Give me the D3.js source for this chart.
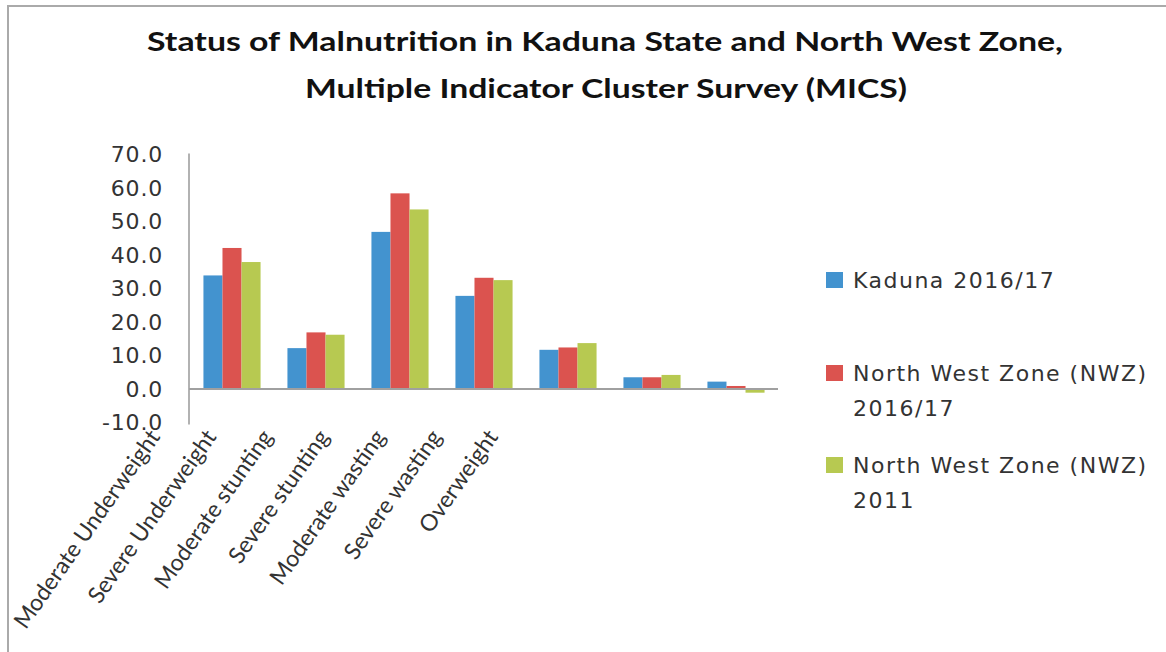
<!DOCTYPE html>
<html>
<head>
<meta charset="utf-8">
<script src="https://d3js.org/d3.v7.min.js"></script>
<style>
  body {margin: 0; background: #fff;}
  svg {display: block;}
</style>
</head>
<body>
<svg id="chart" width="1166" height="652"></svg>
<script>
// data
var categories = ["Moderate Underweight", "Severe Underweight", "Moderate stunting",
  "Severe stunting", "Moderate wasting", "Severe wasting", "Overweight"];
var seriesNames = ["Kaduna 2016/17", "North West Zone (NWZ) 2016/17", "North West Zone (NWZ) 2011"];
var kaduna2016 = [33.9, 12.2, 46.9, 27.8, 11.7, 3.5, 2.2];
var nwz2016 = [42.1, 16.9, 58.4, 33.2, 12.4, 3.5, 0.9];
var nwz2011 = [37.9, 16.2, 53.6, 32.5, 13.7, 4.2, -1.1];
var yTicks = [-10, 0, 10, 20, 30, 40, 50, 60, 70];
var colors = ["#4393cf", "#db534f", "#b7c951"];

var series = [kaduna2016, nwz2016, nwz2011];

var svg = d3.select("#chart");

// frame lines (top and left)
svg.append("line").attr("x1", 7).attr("x2", 1166).attr("y1", 6).attr("y2", 6)
  .style("stroke", "#aaa").style("stroke-width", 2);
svg.append("line").attr("x1", 8).attr("x2", 8).attr("y1", 6).attr("y2", 652)
  .style("stroke", "#aaa").style("stroke-width", 2);

// title
var title = svg.append("g").attr("font-family", "Lato, 'Open Sans', sans-serif")
  .attr("font-weight", "bold").attr("font-size", 27).attr("fill", "#111")
  .attr("text-anchor", "middle");
title.append("text").attr("x", 605).attr("y", 51)
  .attr("textLength", 916).attr("lengthAdjust", "spacingAndGlyphs")
  .text("Status of Malnutrition in Kaduna State and North West Zone,");
title.append("text").attr("x", 606).attr("y", 98)
  .attr("textLength", 602).attr("lengthAdjust", "spacingAndGlyphs")
  .text("Multiple Indicator Cluster Survey (MICS)");

// scales
var y = d3.scaleLinear().domain([-10, 70]).range([422.5, 154.5]);
var x0 = d3.scaleBand().domain(categories).range([190, 778])
  .paddingInner(0.32).paddingOuter(0.16);
var x1 = d3.scaleBand().domain(d3.range(series.length)).range([0, x0.bandwidth()]);
var labelX = d3.scalePoint().domain(categories).range([161, 499]);

// y axis labels (plain hyphen for negatives, as in the original)
var fmt = d3.format(".1f");
var yAxis = d3.axisLeft(y).tickValues(yTicks)
  .tickFormat(function (d) { return fmt(d).replace("\u2212", "-"); })
  .tickSize(0).tickPadding(0);
var ya = svg.append("g").attr("transform", "translate(163,0)").call(yAxis);
ya.select(".domain").remove();
ya.selectAll("text").attr("font-family", "'DejaVu Sans', Verdana, sans-serif")
  .attr("font-size", 22).attr("letter-spacing", 0.8).attr("fill", "#333");

// bars
var groups = svg.append("g").selectAll("g").data(categories).join("g")
  .attr("transform", function (d) { return "translate(" + x0(d) + ",0)"; });
groups.selectAll("rect")
  .data(function (d, i) { return series.map(function (s, k) { return {k: k, v: s[i]}; }); })
  .join("rect")
  .attr("x", function (d) { return x1(d.k); })
  .attr("width", x1.bandwidth())
  .attr("y", function (d) { return y(Math.max(0, d.v)); })
  .attr("height", function (d) { return Math.abs(y(d.v) - y(0)); })
  .attr("fill", function (d) { return colors[d.k]; });

// axis lines
svg.append("line").attr("x1", 189).attr("x2", 189).attr("y1", y(70) - 1).attr("y2", y(-10) + 2)
  .style("stroke", "#999").style("stroke-width", 1.5);
svg.append("line").attr("x1", 189).attr("x2", 778).attr("y1", y(0)).attr("y2", y(0))
  .style("stroke", "#a0a0a0").style("stroke-width", 2);

// category labels
svg.append("g").selectAll("text").data(categories).join("text")
  .attr("transform", function (d) { return "translate(" + labelX(d) + ",437) rotate(-55)"; })
  .attr("text-anchor", "end")
  .attr("font-family", "Lato, 'Open Sans', sans-serif")
  .attr("font-size", 23).attr("fill", "#333")
  .text(function (d) { return d; });

// legend
var legendLines = [["Kaduna 2016/17"], ["North West Zone (NWZ)", "2016/17"], ["North West Zone (NWZ)", "2011"]];
var legendY = [288, 381, 473];
var legend = svg.append("g");
legendLines.forEach(function (lines, i) {
  legend.append("rect").attr("x", 826).attr("y", legendY[i] - 16)
    .attr("width", 17).attr("height", 16).attr("fill", colors[i]);
  var t = legend.append("text").attr("x", 853).attr("y", legendY[i])
    .attr("font-family", "'DejaVu Sans', Verdana, sans-serif")
    .attr("font-size", 22).attr("letter-spacing", 1.5).attr("fill", "#333");
  lines.forEach(function (l, j) {
    t.append("tspan").attr("x", 853).attr("dy", j === 0 ? 0 : 35).text(l);
  });
});
</script>
</body>
</html>
